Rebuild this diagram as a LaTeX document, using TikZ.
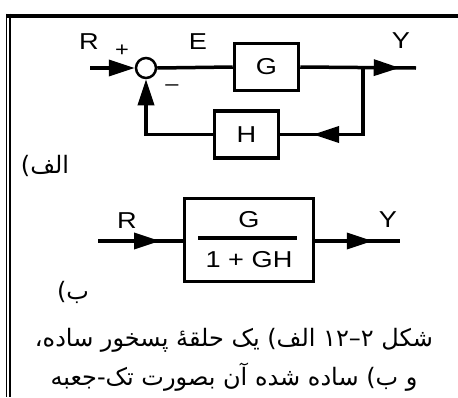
\documentclass[tikz,border=0pt]{standalone}
\usepackage{fontspec}
\setmainfont[FakeStretch=1.18]{Liberation Sans}
\newfontfamily\farsifont[Script=Arabic]{DejaVu Sans}
\TeXXeTstate=1
\usetikzlibrary{arrows.meta,decorations.markings,positioning}

\tikzset{
  block/.style={draw, line width=3.5pt, minimum width=64pt, minimum height=47pt, inner sep=0pt},
  sum/.style={draw, circle, line width=2.5pt, minimum size=20pt, inner sep=0pt},
  signal/.style={line width=3.5pt},
  tip/.style={-{Triangle[length=26pt,width=16pt]}},
  tipat/.style={postaction={decorate},decoration={markings,mark=at position #1 with {\arrow{Triangle[length=26pt,width=16pt]}}}},
  lbl/.style={inner sep=0pt, font=\fontsize{23}{23}\selectfont},
  sign/.style={inner sep=0pt, font=\fontsize{20}{20}\selectfont},
  fa/.style={inner sep=0pt, font=\farsifont\fontsize{24}{24}\selectfont},
}

\begin{document}
\begin{tikzpicture}[x=1pt,y=-1pt]
  \useasboundingbox (0,0) rectangle (458,397);

  % frame
  \draw[line width=4pt] (6,15.5) -- (458,15.5);
  \draw[line width=1.3pt] (6.6,13.5) -- (6.6,397);
  \draw[line width=2pt] (10,13.5) -- (10,397);

  % (a) feedback loop
  \node[sum] (S) at (146,68) {};
  \node[block] (G) at (266.5,67) {};
  \node[lbl] at (G) {G};
  \node[block] (H) at (246.5,134.5) {};
  \node[lbl] at (H) {H};
  \coordinate (rin) at (90,68);
  \coordinate (yout) at (416,68);
  \coordinate (br) at (363,68);

  \draw[signal,tip] (rin) -- (S.west);
  \draw[signal] (S.east) -- (G.west);
  \draw[signal,tipat=99.5pt] (G.east) -- (yout);
  \draw[signal,tipat=116.5pt] (br) |- (H.east);
  \draw[signal,tip] (H.west) -| (S.south);

  \node[lbl] (R) at (89,42) {R};
  \node[sign] (plus) at (122,51) {+};
  \node[lbl] (E) at (198,42) {E};
  \node[sign] (minus) at (172,88) {–};
  \node[lbl] (Y) at (401,41) {Y};
  \node[fa] (la) at (45,166) {\beginR الف)\endR};

  % (b) single box
  \node[draw, line width=3.5pt, minimum width=129pt, minimum height=83pt, inner sep=0pt] (F) at (249,240) {};
  \node[lbl] (num) at (249,220) {G};
  \node[lbl] (den) at (249,260) {1 + GH};
  \draw[line width=3.5pt] (198,238) -- (297,238);
  \coordinate (rin2) at (98,241);
  \coordinate (yout2) at (400,241);
  \draw[signal,tipat=62pt] (rin2) -- (rin2 -| F.west);
  \draw[signal,tipat=57.5pt] (yout2 -| F.east) -- (yout2);

  \node[lbl] (R2) at (127,221) {R};
  \node[lbl] (Y2) at (388,220) {Y};
  \node[fa] (lb) at (73,292) {\beginR ب)\endR};

  % caption
  \node[fa] (cap1) at (234,340) {\beginR شکل \beginL\mbox{۱۲}\mbox{–}\mbox{۲}\endL{} الف) یک حلقهٔ پسخور ساده،\endR};
  \node[fa] (cap2) at (234,377) {\beginR و ب) ساده شده آن بصورت تک-جعبه\endR};
\end{tikzpicture}
\end{document}
